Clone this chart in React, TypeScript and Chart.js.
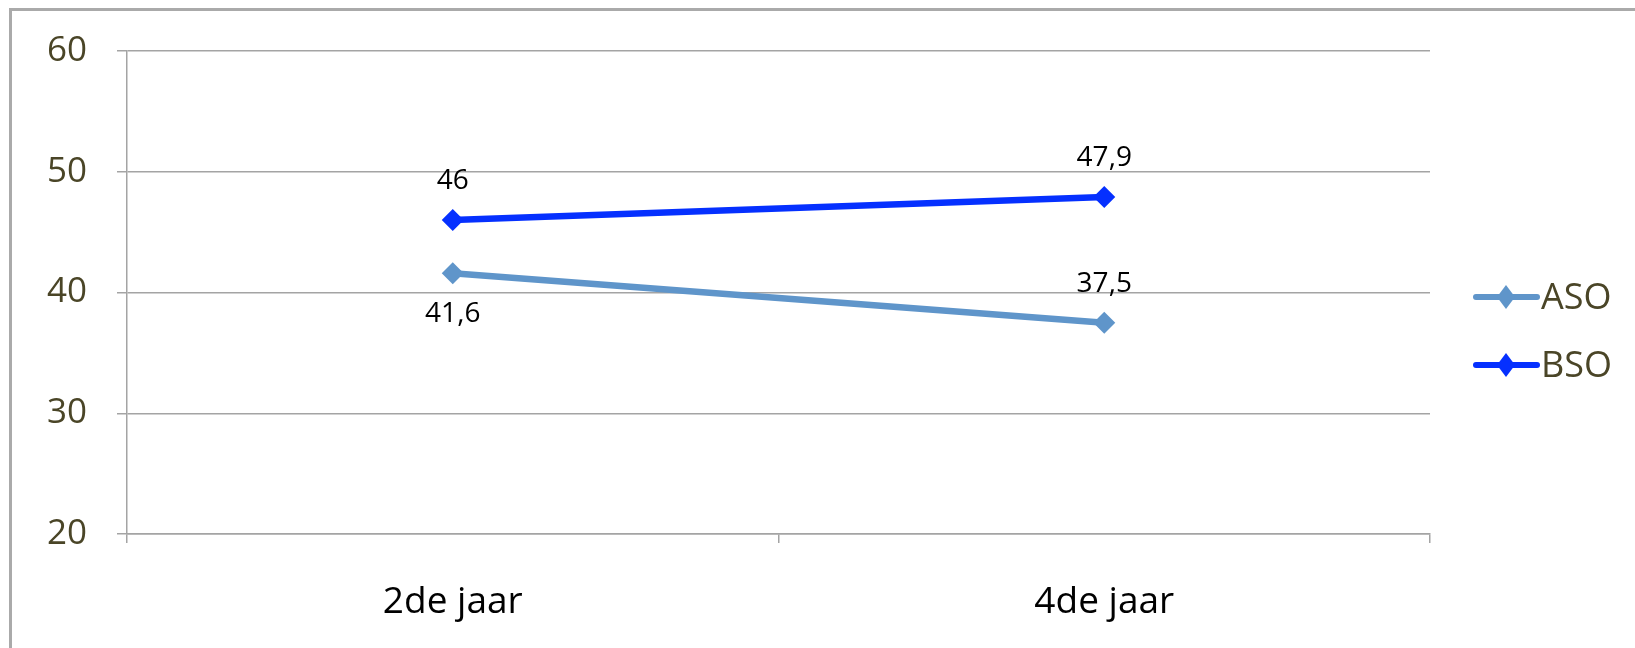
import React, { useEffect, useRef } from "react";
import { Chart, registerables } from "chart.js";

Chart.register(...registerables);

const categories = ["2de jaar", "4de jaar"];
const seriesNames = ["ASO", "BSO"];
const asoValues = [41.6, 37.5];
const bsoValues = [46, 47.9];
const yTicks = [20, 30, 40, 50, 60];

const seriesColors = ["#5F95CA", "#0530FF"];
const labelSides = [
  ["below", "above"],
  ["above", "above"],
];

const GRID = "#A4A4A4";
const OLIVE = "#4A4527";
const FONT = "'Open Sans', sans-serif";

const decorPlugin = {
  id: "decor",
  beforeDraw(chart: any) {
    const ctx = chart.ctx;
    ctx.save();
    ctx.fillStyle = "#FFFFFF";
    ctx.fillRect(0, 0, chart.width, chart.height);
    ctx.fillStyle = "#AAAAAA";
    ctx.fillRect(9, 8, chart.width - 9, 3);
    ctx.fillRect(9, 8, 3, chart.height - 8);
    ctx.restore();
  },
  afterDatasetsDraw(chart: any) {
    const ctx = chart.ctx;
    ctx.save();
    ctx.font = `28px ${FONT}`;
    ctx.fillStyle = "#000000";
    ctx.textAlign = "center";
    ctx.textBaseline = "middle";
    chart.data.datasets.forEach((ds: any, di: number) => {
      const meta = chart.getDatasetMeta(di);
      meta.data.forEach((pt: any, i: number) => {
        const v = ds.data[i] as number;
        const txt = String(v).replace(".", ",");
        const side = labelSides[di][i];
        const y = side === "above" ? pt.y - 39 : pt.y + 41;
        ctx.fillText(txt, pt.x, y);
      });
    });
    // legend
    const legendY = [297, 365];
    chart.data.datasets.forEach((ds: any, di: number) => {
      const y = legendY[di];
      const color = ds.borderColor;
      ctx.strokeStyle = color;
      ctx.lineWidth = 6;
      ctx.lineCap = "round";
      ctx.beginPath();
      ctx.moveTo(1476, y);
      ctx.lineTo(1537, y);
      ctx.stroke();
      ctx.fillStyle = color;
      ctx.beginPath();
      ctx.moveTo(1506, y - 12);
      ctx.lineTo(1515, y);
      ctx.lineTo(1506, y + 12);
      ctx.lineTo(1497, y);
      ctx.closePath();
      ctx.fill();
      ctx.fillStyle = OLIVE;
      ctx.font = `36px ${FONT}`;
      ctx.textAlign = "left";
      ctx.textBaseline = "middle";
      ctx.fillText(ds.label, 1541, y + 2);
    });
    ctx.restore();
  },
};

export default function App() {
  const ref = useRef<HTMLCanvasElement | null>(null);

  useEffect(() => {
    if (!ref.current) return;
    const chart = new Chart(ref.current, {
      type: "line",
      data: {
        labels: categories,
        datasets: [
          {
            label: seriesNames[0],
            data: asoValues,
            borderColor: seriesColors[0],
            backgroundColor: seriesColors[0],
            borderWidth: 6.5,
            pointStyle: "rectRot",
            pointRadius: 11,
            pointBorderWidth: 0,
            tension: 0,
          },
          {
            label: seriesNames[1],
            data: bsoValues,
            borderColor: seriesColors[1],
            backgroundColor: seriesColors[1],
            borderWidth: 6.5,
            pointStyle: "rectRot",
            pointRadius: 11,
            pointBorderWidth: 0,
            tension: 0,
          },
        ],
      },
      options: {
        responsive: false,
        animation: false,
        devicePixelRatio: 1,
        layout: { padding: { left: 0, top: 48.5, right: 205, bottom: 0 } },
        plugins: {
          legend: { display: false },
          tooltip: { enabled: false },
        },
        scales: {
          x: {
            type: "category",
            offset: true,
            grid: {
              offset: true,
              drawOnChartArea: false,
              drawTicks: true,
              tickLength: 9,
              color: GRID,
              lineWidth: 1.5,
            },
            border: { display: true, color: GRID, width: 1.5 },
            ticks: {
              color: "#000000",
              font: { family: "'Open Sans', sans-serif", size: 37 },
              padding: 37,
              maxRotation: 0,
            },
            afterFit: (s: any) => {
              s.height = 114;
            },
          },
          y: {
            min: 20,
            max: 60,
            afterBuildTicks: (s: any) => {
              s.ticks = yTicks.map((v) => ({ value: v }));
            },
            grid: {
              color: GRID,
              lineWidth: 1.5,
              drawTicks: true,
              tickLength: 10,
            },
            border: { display: true, color: GRID, width: 1.5 },
            ticks: {
              color: OLIVE,
              font: { family: "'Open Sans', sans-serif", size: 35 },
              padding: 30,
            },
            afterFit: (s: any) => {
              s.width = 127;
            },
          },
        },
      },
      plugins: [decorPlugin],
    } as any);
    return () => chart.destroy();
  }, []);

  return (
    <div style={{ position: "fixed", left: 0, top: 0, width: 1635, height: 648, background: "#fff" }}>
      <canvas ref={ref} width={1635} height={648} style={{ width: 1635, height: 648, display: "block" }} />
    </div>
  );
}
